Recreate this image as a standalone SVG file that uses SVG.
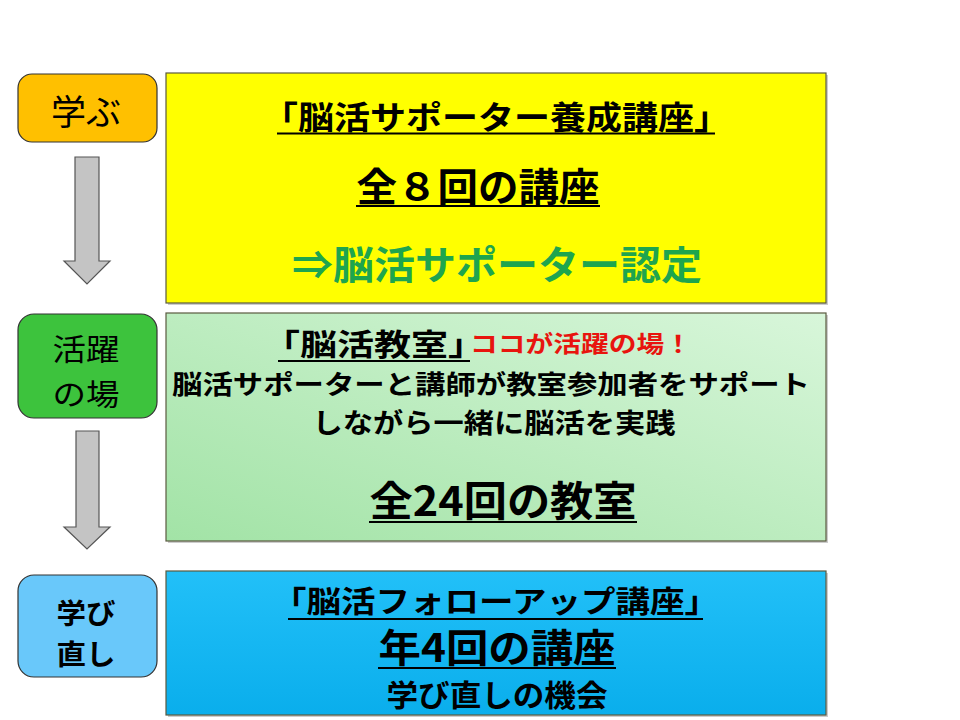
<svg xmlns="http://www.w3.org/2000/svg" width="960" height="720" viewBox="0 0 960 720">
<defs>
<linearGradient id="gGreen" x1="0" y1="1" x2="1" y2="0">
<stop offset="0" stop-color="#A2E3A6"/>
<stop offset="1" stop-color="#D8F6DA"/>
</linearGradient>
<linearGradient id="gBlue" x1="0" y1="0" x2="0" y2="1">
<stop offset="0" stop-color="#22C0F8"/>
<stop offset="1" stop-color="#0AAEEC"/>
</linearGradient>
</defs>
<style>
text{font-family:"Noto Sans CJK JP","Noto Sans CJK SC",sans-serif;text-anchor:middle;fill:#000}
.b{font-weight:bold}
.big{stroke:#5a5a40;stroke-width:1.2}
.shadow{fill:#000;opacity:0.2}
.tag{stroke:#333;stroke-width:1.2}
.ul{stroke:#000;stroke-width:2.2}
.arrow{fill:#C4C4C4;stroke:#555;stroke-width:1.2}
</style>
<rect width="960" height="720" fill="#fff"/>

<g id="box-manabu-main">
<rect class="shadow" x="168" y="75" width="660" height="230"/>
<rect class="big" x="166" y="73" width="660" height="230" fill="#FFFF00"/>
<text class="b" x="496" y="129" font-size="32" textLength="468" lengthAdjust="spacingAndGlyphs">「脳活サポーター養成講座」</text>
<line class="ul" x1="277" y1="133.5" x2="715" y2="133.5"/>
<text class="b" x="478" y="201" font-size="39" textLength="243" lengthAdjust="spacingAndGlyphs">全８回の講座</text>
<line class="ul" x1="356" y1="206" x2="600" y2="206"/>
<text class="b" x="497" y="279" font-size="39" style="fill:#1EA54E" textLength="410" lengthAdjust="spacingAndGlyphs">⇒脳活サポーター認定</text>
</g>

<g id="box-katsuyaku-main">
<rect class="shadow" x="168" y="315" width="660" height="228"/>
<rect class="big" x="166" y="313" width="660" height="228" fill="url(#gGreen)"/>
<text class="b" x="374" y="355" font-size="30" textLength="222" lengthAdjust="spacingAndGlyphs">「脳活教室」</text>
<line class="ul" x1="278" y1="361" x2="470" y2="361"/>
<text class="b" x="581" y="352" font-size="23" style="fill:#E8140E" textLength="222" lengthAdjust="spacingAndGlyphs">ココが活躍の場！</text>
<text class="b" x="491" y="394" font-size="26" textLength="638" lengthAdjust="spacingAndGlyphs">脳活サポーターと講師が教室参加者をサポート</text>
<text class="b" x="494" y="433" font-size="27" textLength="363" lengthAdjust="spacingAndGlyphs">しながら一緒に脳活を実践</text>
<text class="b" x="503" y="516" font-size="41" textLength="267" lengthAdjust="spacingAndGlyphs">全24回の教室</text>
<line class="ul" x1="369" y1="522" x2="637" y2="522"/>
</g>

<g id="box-manabinaoshi-main">
<rect class="shadow" x="168" y="573" width="660" height="144"/>
<rect class="big" x="166" y="571" width="660" height="144" fill="url(#gBlue)"/>
<text class="b" x="495.5" y="612" font-size="30" textLength="447" lengthAdjust="spacingAndGlyphs">「脳活フォローアップ講座」</text>
<line class="ul" x1="288" y1="619" x2="703" y2="619"/>
<text class="b" x="497" y="662" font-size="39" textLength="237" lengthAdjust="spacingAndGlyphs">年4回の講座</text>
<line class="ul" x1="378" y1="668" x2="616" y2="668"/>
<text class="b" x="497" y="706" font-size="30" textLength="221" lengthAdjust="spacingAndGlyphs">学び直しの機会</text>
</g>

<g id="tag-manabu">
<rect class="tag" x="18" y="74" width="139" height="68" rx="14" fill="#FFC000"/>
<text x="86" y="125" font-size="35">学ぶ</text>
</g>

<g id="tag-katsuyaku">
<rect class="tag" x="18" y="314" width="139" height="104" rx="16" fill="#3DC33D"/>
<text x="86" y="360" font-size="30" textLength="67" lengthAdjust="spacingAndGlyphs">活躍</text>
<text x="86" y="405" font-size="30" textLength="67" lengthAdjust="spacingAndGlyphs">の場</text>
</g>

<g id="tag-manabinaoshi">
<rect class="tag" x="18" y="575" width="139" height="102" rx="16" fill="#69C8FA"/>
<text class="b" x="86" y="624" font-size="28" textLength="59" lengthAdjust="spacingAndGlyphs">学び</text>
<text class="b" x="86" y="665" font-size="28" textLength="59" lengthAdjust="spacingAndGlyphs">直し</text>
</g>

<g id="connectors">
<path class="arrow" d="M75,157 H99 V261 H110 L87,284 L64,261 H75 Z"/>
<path class="arrow" d="M76,431 H99 V527 H110 L87,549 L64,527 H76 Z"/>
</g>
</svg>
